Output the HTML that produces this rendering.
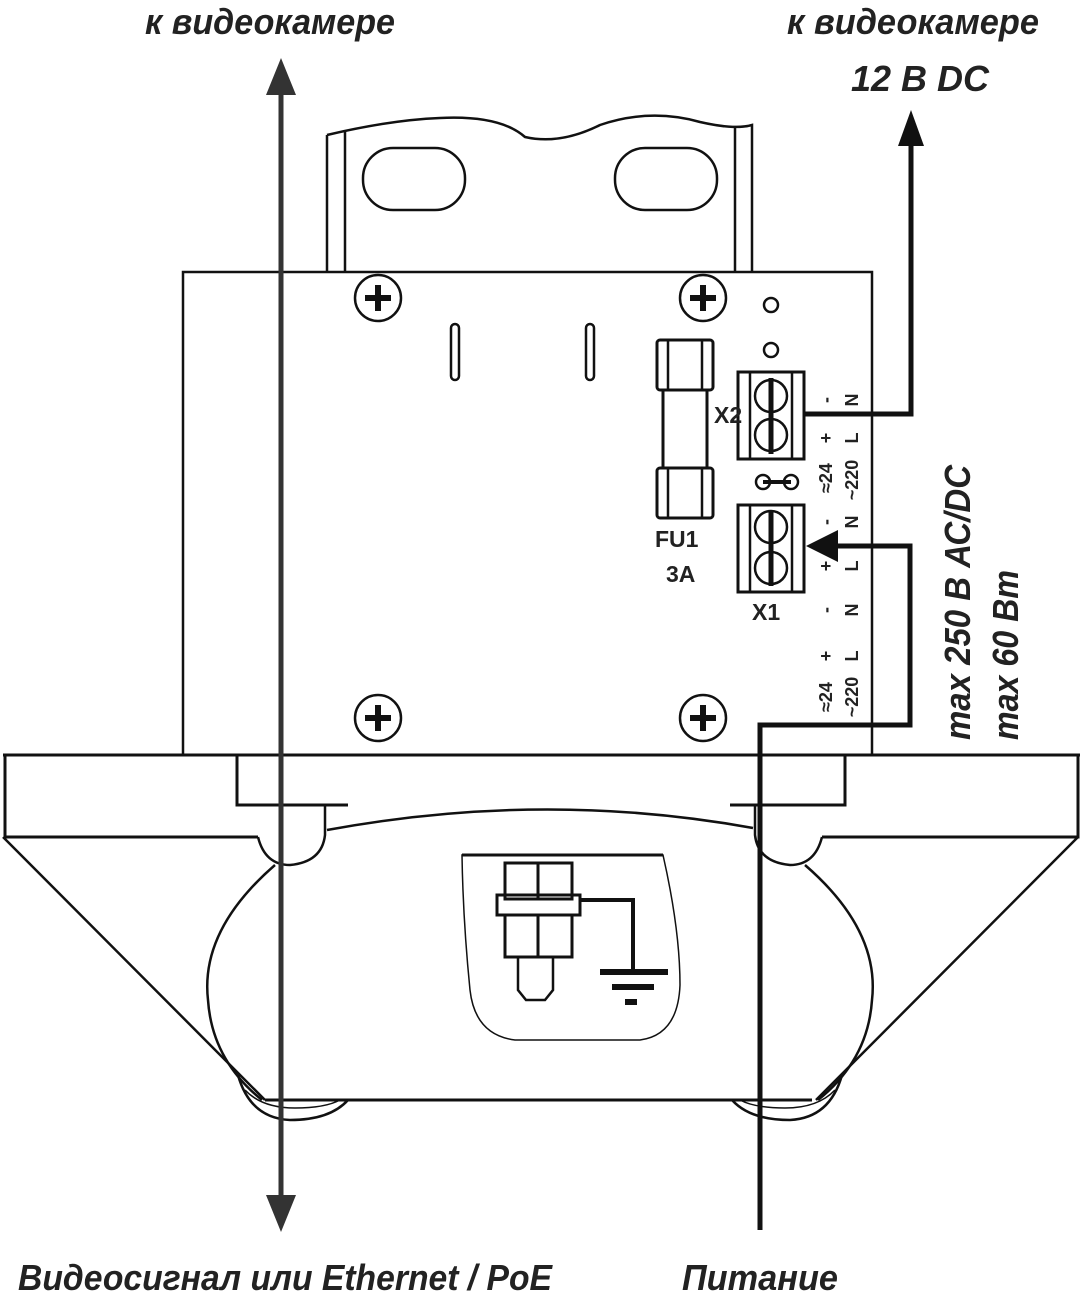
<!DOCTYPE html>
<html><head><meta charset="utf-8"><style>
html,body{margin:0;padding:0;background:#fff}
svg{display:block}
text{font-family:"Liberation Sans",sans-serif;font-weight:bold;font-style:italic;fill:#222;stroke:none}
</style></head><body>
<svg width="1080" height="1292" viewBox="0 0 1080 1292" xmlns="http://www.w3.org/2000/svg" fill="none" stroke="#111" stroke-width="2.5">
<!-- bracket -->
<path d="M327 135 Q390 120 440 118 Q500 115 525 137 Q560 145 600 125 Q650 108 700 122 Q735 130 752 125 L752 272 M327 135 L327 272"/>
<path d="M345 130 L345 272 M735 128 L735 272"/>
<rect x="363" y="148" width="102" height="62" rx="30" ry="30"/>
<rect x="615" y="148" width="102" height="62" rx="30" ry="30"/>
<!-- board -->
<path d="M183 755 L183 272 L872 272 L872 755"/>
<circle cx="378" cy="298" r="23"/><circle cx="703" cy="298" r="23"/>
<circle cx="378" cy="718" r="23"/><circle cx="703" cy="718" r="23"/>
<path d="M365 298h26M378 285v26M690 298h26M703 285v26M365 718h26M378 705v26M690 718h26M703 705v26" stroke-width="6"/>
<rect x="451" y="324" width="8" height="56" rx="4"/>
<rect x="586" y="324" width="8" height="56" rx="4"/>
<!-- fuse -->
<rect x="657" y="340" width="56" height="50" rx="3" stroke-width="3"/>
<rect x="657" y="468" width="56" height="50" rx="3" stroke-width="3"/>
<path d="M663 390 V468 M707 390 V468" stroke-width="3"/>
<path d="M668 340v50M702 340v50M668 468v50M702 468v50"/>
<text x="655" y="547" font-size="23" style="font-style:normal">FU1</text>
<text x="666" y="582" font-size="23" style="font-style:normal">3A</text>
<circle cx="771" cy="305" r="7"/><circle cx="771" cy="350" r="7"/>
<!-- X2 -->
<rect x="738" y="372" width="66" height="87" stroke-width="3"/>
<path d="M750 372v87M792 372v87"/>
<circle cx="771" cy="396" r="16"/><circle cx="771" cy="435" r="16"/>
<path d="M771 378v76" stroke-width="5"/>
<text x="714" y="423" font-size="23" style="font-style:normal">X2</text>
<!-- jumper -->
<circle cx="763" cy="482" r="7"/><circle cx="791" cy="482" r="7"/>
<path d="M763 482h28" stroke-width="4"/>
<!-- X1 -->
<rect x="738" y="505" width="66" height="87" stroke-width="3"/>
<path d="M750 505v87M792 505v87"/>
<circle cx="771" cy="527" r="16"/><circle cx="771" cy="568" r="16"/>
<path d="M771 510v76" stroke-width="5"/>
<text x="752" y="620" font-size="23" style="font-style:normal">X1</text>
<!-- rotated small labels -->
<g font-size="18">
<text transform="translate(832,400) rotate(-90)" text-anchor="middle" style="font-style:normal">-</text>
<text transform="translate(858,400) rotate(-90)" text-anchor="middle" style="font-style:normal">N</text>
<text transform="translate(832,438) rotate(-90)" text-anchor="middle" style="font-style:normal">+</text>
<text transform="translate(858,438) rotate(-90)" text-anchor="middle" style="font-style:normal">L</text>
<text transform="translate(832,478) rotate(-90)" text-anchor="middle" style="font-style:normal">≈24</text>
<text transform="translate(858,480) rotate(-90)" text-anchor="middle" style="font-style:normal">~220</text>
<text transform="translate(832,522) rotate(-90)" text-anchor="middle" style="font-style:normal">-</text>
<text transform="translate(858,522) rotate(-90)" text-anchor="middle" style="font-style:normal">N</text>
<text transform="translate(832,566) rotate(-90)" text-anchor="middle" style="font-style:normal">+</text>
<text transform="translate(858,566) rotate(-90)" text-anchor="middle" style="font-style:normal">L</text>
<text transform="translate(832,610) rotate(-90)" text-anchor="middle" style="font-style:normal">-</text>
<text transform="translate(858,610) rotate(-90)" text-anchor="middle" style="font-style:normal">N</text>
<text transform="translate(832,656) rotate(-90)" text-anchor="middle" style="font-style:normal">+</text>
<text transform="translate(858,656) rotate(-90)" text-anchor="middle" style="font-style:normal">L</text>
<text transform="translate(832,697) rotate(-90)" text-anchor="middle" style="font-style:normal">≈24</text>
<text transform="translate(858,697) rotate(-90)" text-anchor="middle" style="font-style:normal">~220</text>
</g>
<!-- base plate -->
<path d="M3 755 H1080 M5 755 V837 H258 M1078 755 V837 H822" stroke-width="3"/>
<path d="M237 755 V805 H348 M845 755 V805 H730" stroke-width="3"/>
<path d="M258 837 Q265 865 290 865 Q322 862 325 835 V805"/>
<path d="M822 837 Q815 865 790 865 Q758 862 755 835 V805"/>
<path d="M327 830 Q544 790 753 828"/>
<path d="M3 837 L265 1100 M1078 837 L816 1100"/>
<path d="M275 865 Q200 930 208 1000 Q212 1060 262 1100 M805 865 Q880 930 872 1000 Q868 1060 818 1100" />
<path d="M265 1100 H812" stroke-width="3"/>
<path d="M238 1075 Q250 1118 290 1120 Q330 1120 348 1100 M842 1075 Q830 1118 790 1120 Q750 1120 732 1100"/>
<path d="M245 1090 Q262 1108 295 1108 Q325 1108 340 1100 M835 1090 Q818 1108 785 1108 Q755 1108 740 1100" stroke-width="1.5"/>
<!-- cable window -->
<path d="M462 855 H663 Q680 930 680 985 Q678 1035 640 1040 H515 Q475 1035 470 990 Q463 920 462 855Z" stroke-width="1.5"/>
<path d="M462 855 H663" stroke-width="3"/>
<rect x="505" y="863" width="67" height="36" stroke-width="3"/>
<path d="M538 863v36" stroke-width="3"/>
<rect x="497" y="895" width="83" height="20" stroke-width="3"/>
<rect x="505" y="915" width="67" height="42" stroke-width="3"/>
<path d="M538 915v42" stroke-width="3"/>
<path d="M518 957 V990 L526 1000 H545 L553 990 V957"/>
<path d="M580 900 H633 V972" stroke-width="4"/>
<path d="M600 972h68M612 987h42M625 1002h12" stroke-width="6"/>
<!-- video line -->
<path d="M281 85 V1200" stroke="#333" stroke-width="5"/>
<path d="M266 95 L281 58 L296 95Z M266 1195 L281 1232 L296 1195Z" fill="#333" stroke="none"/>
<!-- 12V line -->
<path d="M805 414 H911 V140" stroke-width="5"/>
<path d="M898 146 L911 110 L924 146Z" fill="#111" stroke="none"/>
<!-- power line -->
<path d="M760 1230 V725 H910 V546 H830" stroke-width="5"/>
<path d="M806 546 L838 530 L838 562Z" fill="#111" stroke="none"/>
<!-- labels -->
<g font-size="36">
<text x="145" y="34" textLength="250" lengthAdjust="spacingAndGlyphs">к видеокамере</text>
<text x="787" y="34" textLength="252" lengthAdjust="spacingAndGlyphs">к видеокамере</text>
<text x="851" y="91" textLength="138" lengthAdjust="spacingAndGlyphs">12 В DC</text>
<text x="18" y="1290" textLength="534" lengthAdjust="spacingAndGlyphs">Видеосигнал или Ethernet / PoE</text>
<text x="682" y="1290" textLength="156" lengthAdjust="spacingAndGlyphs">Питание</text>
<text transform="translate(970,740) rotate(-90)" textLength="275" lengthAdjust="spacingAndGlyphs">max 250 В АС/DC</text>
<text transform="translate(1018,740) rotate(-90)" textLength="170" lengthAdjust="spacingAndGlyphs">max 60 Вт</text>
</g>
</svg>
</body></html>
